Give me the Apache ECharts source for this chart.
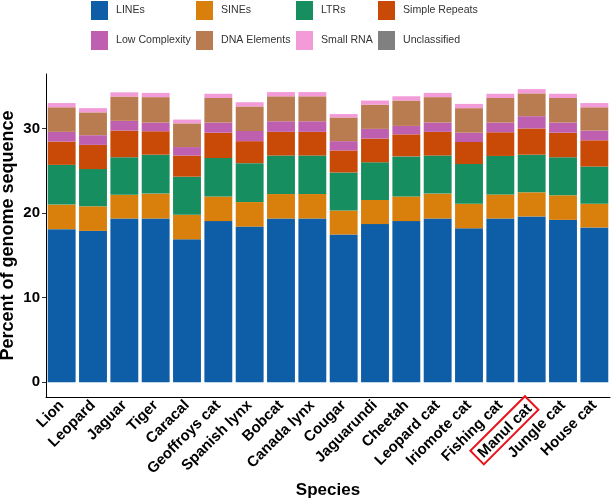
<!DOCTYPE html>
<html>
<head>
<meta charset="utf-8">
<script src="https://cdn.jsdelivr.net/npm/echarts@6/dist/echarts.min.js"></script>
<style>html,body{margin:0;padding:0;background:#fff;}#c{width:614px;height:501px;}</style>
</head>
<body>
<div id="c"></div>
<script>
const species = ['Lion','Leopard','Jaguar','Tiger','Caracal','Geoffroys cat','Spanish lynx','Bobcat','Canada lynx','Cougar','Jaguarundi','Cheetah','Leopard cat','Iriomote cat','Fishing cat','Manul cat','Jungle cat','House cat'];
const lines      = [18.1,17.9,19.36,19.36,16.9,19.05,18.4,19.36,19.36,17.47,18.7,19.05,19.36,18.2,19.36,19.6,19.2,18.3];
const sines      = [2.9,2.9,2.8,2.94,2.9,2.91,2.9,2.89,2.89,2.83,2.85,2.91,2.94,2.9,2.84,2.85,2.9,2.8];
const ltrs       = [4.7,4.4,4.44,4.6,4.5,4.54,4.6,4.55,4.55,4.5,4.45,4.74,4.5,4.7,4.55,4.45,4.5,4.4];
const simpleRep  = [2.75,2.86,3.15,2.77,2.5,3.0,2.6,2.8,2.8,2.6,2.8,2.6,2.8,2.6,2.8,3.1,2.9,3.1];
const lowComplex = [1.15,1.14,1.15,1.03,1.0,1.2,1.2,1.25,1.25,1.1,1.15,1.0,1.1,1.1,1.15,1.45,1.2,1.15];
const dnaElem    = [2.9,2.7,2.87,3.0,2.8,2.9,2.9,2.95,2.95,2.8,2.85,3.0,3.0,2.9,2.9,2.7,2.9,2.75];
const smallRNA   = [0.5,0.5,0.5,0.5,0.45,0.5,0.5,0.5,0.5,0.4,0.5,0.5,0.5,0.5,0.5,0.5,0.5,0.5];
const unclass    = [0,0,0,0,0,0,0,0,0,0,0,0,0,0,0,0,0,0];
const yTicks = [0,10,20,30];
const highlighted = 'Manul cat';

const seriesNames = ['LINEs','SINEs','LTRs','Simple Repeats','Low Complexity','DNA Elements','Small RNA','Unclassified'];
const seriesData = [lines,sines,ltrs,simpleRep,lowComplex,dnaElem,smallRNA,unclass];
const colors = ['#0e5ea7','#d97f0c','#178e5f','#c94a06','#bf5fb0','#b97c50','#f29bd8','#808080'];

const FONT = "'Liberation Sans', Arial, sans-serif";
const chart = echarts.init(document.getElementById('c'), null, {renderer:'canvas'});

const legendCols = [[0,4],[1,5],[2,6],[3,7]];
const legendLefts = [91,196,296,378];
const legends = legendCols.map((pair,i)=>({
  orient:'vertical', left: legendLefts[i], top: 1, padding: 0,
  itemWidth: 17, itemHeight: 19, itemGap: 11, icon: 'rect',
  data: pair.map(k=>seriesNames[k]),
  textStyle: {fontFamily: FONT, fontSize: 10.6, color:'#333', padding:[2,0,0,3]},
  selectedMode: false
}));

const option = {
  animation: false,
  color: colors,
  legend: legends,
  grid: {left: 46, right: 4, top: 74, bottom: 104, containLabel: false, outerBoundsMode: 'none'},
  xAxis: {
    type: 'category', data: species,
    axisLine: {onZero: false, lineStyle: {color:'#000', width: 1}},
    axisTick: {alignWithLabel: true, length: 4, lineStyle:{color:'#333'}},
    axisLabel: {
      rotate: 45, interval: 0, margin: 6,
      fontFamily: FONT, fontWeight: 'bold', fontSize: 15, color: '#000',
      formatter: v => v === highlighted ? '{box|' + v + '}' : v,
      rich: {box: {fontFamily: FONT, fontWeight:'bold', fontSize: 15, color:'#000',
                   borderColor:'#e8141c', borderWidth: 2, padding:[3,4,1,4]}}
    },
    name: 'Species', nameLocation: 'middle', nameGap: 85, nameMoveOverlap: false,
    nameTextStyle: {fontFamily: FONT, fontWeight:'bold', fontSize: 17, color:'#000'}
  },
  yAxis: {
    type: 'value', min: -1.735, max: 36.435,
    splitLine: {show:false},
    axisLine: {show:true, lineStyle:{color:'#000', width:1}},
    axisTick: {show:true, length: 4, customValues: yTicks, lineStyle:{color:'#333'}},
    axisLabel: {customValues: yTicks, margin: 6, fontFamily: FONT, fontWeight:'bold', fontSize: 15, color:'#000'},
    name: 'Percent of genome sequence', nameLocation: 'middle', nameGap: 29, nameRotate: 90, nameMoveOverlap: false,
    nameTextStyle: {fontFamily: FONT, fontWeight:'bold', fontSize: 18, color:'#000'}
  },
  series: seriesNames.map((n,i)=>({
    name: n, type: 'bar', stack: 'total', data: seriesData[i],
    barCategoryGap: '11%',
    itemStyle: {color: colors[i]}
  }))
};
chart.setOption(option);
</script>
</body>
</html>
